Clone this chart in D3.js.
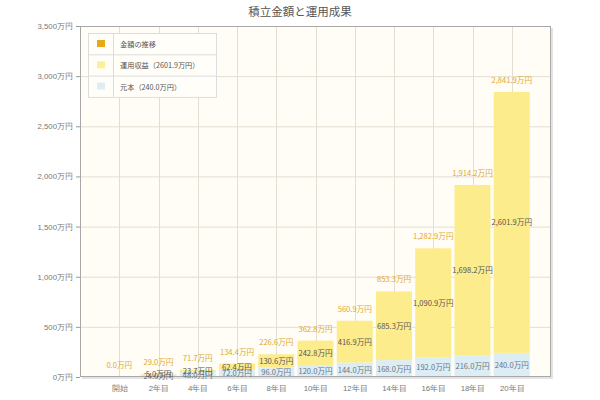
<!DOCTYPE html>
<html><head><meta charset="utf-8">
<script src="https://cdn.jsdelivr.net/npm/d3@7"></script>
<style>body{margin:0;background:#fff;}svg{display:block;font-family:"Noto Sans CJK JP","Noto Sans",sans-serif;}</style>
</head><body><svg id="c" width="600" height="400"></svg>
<script>
const categories = ["開始","2年目","4年目","6年目","8年目","10年目","12年目","14年目","16年目","18年目","20年目"];
const principal = [0,24.0,48.0,72.0,96.0,120.0,144.0,168.0,192.0,216.0,240.0];
const returns = [0,5.0,23.7,62.4,130.6,242.8,416.9,685.3,1090.9,1698.2,2601.9];
const totals = [0.0,29.0,71.7,134.4,226.6,362.8,560.9,853.3,1282.9,1914.2,2841.9];
const yTicks = [0,500,1000,1500,2000,2500,3000,3500];
const legendItems = ["金額の推移","運用収益（2601.9万円）","元本（240.0万円）"];

const svg = d3.select("#c");
const L=80,R=551,T=26,B=377;
const x = d3.scalePoint().domain(categories).range([L,R]).padding(1);
const y = d3.scaleLinear().domain([0,3500]).range([B,T]);
const fmt = v => d3.format(",.1f")(v)+"万円";

svg.append("text").attr("x",300).attr("y",16).attr("text-anchor","middle")
  .attr("font-size",11.5).attr("fill","#555").text("積立金額と運用成果");

// shadow + background
svg.append("rect").attr("x",L+2).attr("y",T+2).attr("width",R-L).attr("height",B-T).attr("fill","#e4e4e4");
svg.append("rect").attr("x",L).attr("y",T).attr("width",R-L).attr("height",B-T).attr("fill","#fffdf5");

// grid
svg.append("g").selectAll("line").data(yTicks.slice(1,-1)).join("line")
  .attr("x1",L).attr("x2",R).attr("y1",d=>y(d)+0.5).attr("y2",d=>y(d)+0.5)
  .attr("stroke","#e3ded2");
svg.append("g").selectAll("line").data(categories).join("line")
  .attr("x1",d=>Math.round(x(d))+0.5).attr("x2",d=>Math.round(x(d))+0.5).attr("y1",T).attr("y2",B)
  .attr("stroke","#e3ded2");

// bars
const bw = 36;
const g = svg.append("g");
categories.forEach((c,i)=>{
  const cx = x(c);
  g.append("rect").attr("x",cx-bw/2).attr("width",bw)
    .attr("y",y(principal[i])).attr("height",y(0)-y(principal[i])).attr("fill","#dcedf5");
  g.append("rect").attr("x",cx-bw/2).attr("width",bw)
    .attr("y",y(principal[i]+returns[i])).attr("height",y(principal[i])-y(principal[i]+returns[i])).attr("fill","#fdec8c");
});

// border
svg.append("rect").attr("x",L+0.5).attr("y",T+0.5).attr("width",R-L-1).attr("height",B-T-1)
  .attr("fill","none").attr("stroke","#a8a8a8");

// labels
const lab = svg.append("g").attr("font-size",7.6).attr("text-anchor","middle");
categories.forEach((c,i)=>{
  const cx = x(c);
  if(i>0){
    lab.append("text").attr("x",cx).attr("y",y(principal[i]/2)+3).attr("fill","#6a7580").text(fmt(principal[i]));
    lab.append("text").attr("x",cx).attr("y",y(principal[i]+returns[i]/2)+3).attr("fill","#555").text(fmt(returns[i]));
  }
  lab.append("text").attr("x",cx).attr("y",y(totals[i])-9).attr("fill","#e0a82e").text(fmt(totals[i]));
});

// axes
const ya = svg.append("g").attr("transform",`translate(${L},0)`)
  .call(d3.axisLeft(y).tickValues(yTicks).tickSize(4).tickPadding(3).tickFormat(d=>d3.format(",")(d)+"万円"));
ya.select(".domain").remove();
ya.selectAll("line").attr("stroke","#999");
ya.selectAll("text").attr("fill","#777").attr("font-size",7.8).attr("font-family","inherit");

const xa = svg.append("g").attr("transform",`translate(0,${B})`)
  .call(d3.axisBottom(x).tickSize(0).tickPadding(8));
xa.select(".domain").remove();
xa.selectAll("text").attr("fill","#777").attr("font-size",7.8).attr("font-family","inherit");

// legend
const lg = svg.append("g");
const lx=88, ly=33, rh=21.3, lw=128;
lg.append("rect").attr("x",lx+0.5).attr("y",ly+0.5).attr("width",lw).attr("height",rh*3).attr("fill","#fffef9").attr("stroke","#ddd");
lg.append("line").attr("x1",lx+25.5).attr("x2",lx+25.5).attr("y1",ly).attr("y2",ly+rh*3).attr("stroke","#ddd");
[1,2].forEach(k=>lg.append("line").attr("x1",lx).attr("x2",lx+lw).attr("y1",ly+rh*k+0.5).attr("y2",ly+rh*k+0.5).attr("stroke","#ddd"));
const sw = ["#e8a817","#fdef9a","#dcedf5"];
legendItems.forEach((t,k)=>{
  lg.append("rect").attr("x",lx+9).attr("y",ly+rh*k+7).attr("width",8).attr("height",7).attr("fill",sw[k]);
  lg.append("text").attr("x",lx+32).attr("y",ly+rh*k+14).attr("font-size",7.2).attr("fill","#555").text(t);
});
</script></body></html>
